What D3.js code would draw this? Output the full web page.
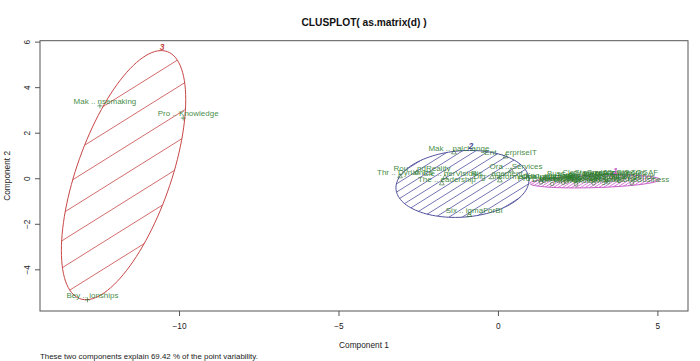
<!DOCTYPE html>
<html>
<head>
<meta charset="utf-8">
<script src="https://cdn.jsdelivr.net/npm/d3@7"></script>
<style>
  body { margin: 0; background: #fff; }
  text { font-family: "Liberation Sans", Arial, sans-serif; }
</style>
</head>
<body>
<script>
// observations: label, component 1, component 2, cluster
const labels = [
  "Mak .. nsemaking", "Pro .. Knowledge", "Bey .. ionships",
  "Mak .. nalchange", "Ent .. erpriseIT", "Thr .. Dynamics", "Rou .. ndReality",
  "Cle .. herVision", "The .. eadership", "Six .. igmaForBI", "Ris .. agement",
  "Ora .. Services", "Dig .. nsformation",
  "Pro .. nServices", "Kno .. geBuses", "Dat .. ernance", "Inf .. chitecture",
  "Bus .. sProcess", "Clo .. omputing", "Sta .. rdsCoBIT", "Gov .. ameworks",
  "Arc .. reTOGAF", "Ser .. ementITIL", "Sec .. rityRisk", "Und .. heBusiness",
  "Fin .. ancialMgt", "Mea .. ringValue", "Ope .. tionsMgt", "Ind .. ustryTrends",
  "Por .. tfolioMgt", "Bus .. nessCase", "Lic .. ensingMgt", "Sup .. lierMgt"
];
const comp1 = [
  -12.48, -9.87, -12.87,
  -1.38, 0.24, -3.07, -2.54, -1.66, -1.76, -0.9, -0.19, 0.41, 0.06,
  1.35, 1.55, 1.7, 1.9, 2.25, 2.7, 3.1, 3.55, 4.0, 3.0, 3.45, 4.2,
  2.45, 2.05, 1.45, 3.8, 2.85, 2.15, 3.4, 2.55
];
const comp2 = [
  3.18, 2.64, -5.34,
  1.13, 0.95, 0.08, 0.25, 0.04, -0.23, -1.62, 0.04, 0.34, -0.10,
  -0.18, -0.05, -0.25, -0.12, 0.02, 0.06, 0.05, 0.06, 0.08, -0.22, -0.18, -0.22,
  -0.27, -0.2, -0.12, -0.12, -0.05, -0.15, -0.04, -0.02
];
const clusterOf = [
  3, 3, 3,
  2, 2, 2, 2, 2, 2, 2, 2, 2, 2,
  1, 1, 1, 1, 1, 1, 1, 1, 1, 1, 1, 1,
  1, 1, 1, 1, 1, 1, 1, 1
];

// cluster ellipses: centre, half extents along each component, correlation
const clusterIds = [1, 2, 3];
const ellCx = [3.04, -1.113, -11.74];
const ellCy = [-0.14, -0.25, 0.136];
const ellHx = [2.04, 2.085, 1.95];
const ellHy = [0.285, 1.47, 5.47];
const ellRho = [0.3, 0.113, 0.606];

const xTicks = [-10, -5, 0, 5];
const yTicks = [-4, -2, 0, 2, 4, 6];

const w = 700, h = 361;
const mLeft = 40, mRight = 688, mTop = 40.7, mBottom = 311;

const clusCol = { 1: "#c85ac8", 2: "#50509e", 3: "#c84646" };
const hatchGap = { 1: 2.4, 2: 7, 3: 23 };
const txtCol = "#2e7d2e";
const ptCol = "#2a6a2a";

const x = d3.scaleLinear().domain([-14.36, 5.96]).range([mLeft, mRight]);
const y = d3.scaleLinear().domain([-5.83, 6.04]).range([mBottom, mTop]);

const svg = d3.select("body").append("svg")
  .attr("width", w).attr("height", h);

const defs = svg.append("defs");

// ellipses with hatching
const line = d3.line().x(d => x(d[0])).y(d => y(d[1]));
clusterIds.forEach((c, i) => {
  const phi = Math.acos(ellRho[i]);
  const pts = d3.range(0, 361, 3).map(a => {
    const t = a * Math.PI / 180;
    return [ellCx[i] + ellHx[i] * Math.cos(t), ellCy[i] + ellHy[i] * Math.cos(t - phi)];
  });
  defs.append("clipPath").attr("id", "clip" + c)
    .append("path").attr("d", line(pts) + "Z");

  const cxp = x(ellCx[i]), cyp = y(ellCy[i]);
  const R = Math.hypot(x(ellCx[i] + ellHx[i]) - cxp, y(ellCy[i] + ellHy[i]) - cyp) + 4;
  const th = 32 * Math.PI / 180;
  const dx = Math.cos(th), dy = -Math.sin(th);
  const nx = Math.sin(th), ny = Math.cos(th);
  const gap = hatchGap[c];
  const offs = d3.range(-Math.ceil(R / gap) * gap, R, gap);
  svg.append("g").attr("clip-path", "url(#clip" + c + ")")
    .selectAll("line").data(offs).enter().append("line")
    .attr("x1", o => cxp + o * nx - R * dx).attr("y1", o => cyp + o * ny - R * dy)
    .attr("x2", o => cxp + o * nx + R * dx).attr("y2", o => cyp + o * ny + R * dy)
    .attr("stroke", clusCol[c]).attr("stroke-width", 0.8);

  svg.append("path").attr("d", line(pts) + "Z")
    .attr("fill", "none").attr("stroke", clusCol[c]).attr("stroke-width", 1);
});

// point symbols: circle, triangle, plus
const idx = d3.range(labels.length);
const symType = { 1: d3.symbolCircle, 2: d3.symbolTriangle };
svg.append("g").selectAll("path").data(idx).enter().append("path")
  .attr("transform", i => "translate(" + x(comp1[i]) + "," + y(comp2[i]) + ")")
  .attr("d", i => {
    if (clusterOf[i] === 3) return "M-2.5,0H2.5M0,-2.5V2.5";
    return d3.symbol().type(symType[clusterOf[i]]).size(10)();
  })
  .attr("fill", "none").attr("stroke", ptCol).attr("stroke-width", 0.6);

// point labels
svg.append("g").selectAll("text").data(idx).enter().append("text")
  .attr("x", i => x(comp1[i]) + 5)
  .attr("y", i => y(comp2[i]) - 4.5)
  .attr("dy", "0.35em")
  .attr("text-anchor", "middle")
  .attr("font-size", 8)
  .attr("fill", txtCol)
  .attr("fill-opacity", 0.9)
  .text(i => labels[i]);

// cluster numbers at the top of each ellipse
clusterIds.forEach((c, i) => {
  svg.append("text")
    .attr("x", x(ellCx[i] + ellHx[i] * ellRho[i]) + 1)
    .attr("y", y(ellCy[i] + ellHy[i]) - 4)
    .attr("dy", "0.35em")
    .attr("text-anchor", "middle")
    .attr("font-size", 8.5).attr("font-weight", "bold").attr("font-style", "italic")
    .attr("fill", clusCol[c])
    .text(c);
});

// frame
svg.append("rect")
  .attr("x", mLeft).attr("y", mTop)
  .attr("width", mRight - mLeft).attr("height", mBottom - mTop)
  .attr("fill", "none").attr("stroke", "#555").attr("stroke-width", 1);

// axes
const xAxis = svg.append("g")
  .attr("transform", "translate(0," + mBottom + ")")
  .call(d3.axisBottom(x).tickValues(xTicks).tickSize(5).tickSizeOuter(0).tickPadding(7));
xAxis.select(".domain").remove();
xAxis.selectAll("text").attr("font-size", 8.3).attr("fill", "#222").attr("font-family", null);
xAxis.selectAll("line").attr("stroke", "#555");

const yAxis = svg.append("g")
  .attr("transform", "translate(" + mLeft + ",0)")
  .call(d3.axisLeft(y).tickValues(yTicks).tickSize(5).tickSizeOuter(0));
yAxis.select(".domain").remove();
yAxis.selectAll("line").attr("stroke", "#555");
yAxis.selectAll("text")
  .attr("x", 0).attr("y", -10).attr("dy", 0)
  .attr("transform", "rotate(-90)")
  .attr("text-anchor", "middle")
  .attr("font-size", 8.3).attr("fill", "#222").attr("font-family", null);

// titles
svg.append("text")
  .attr("x", (mLeft + mRight) / 2).attr("y", 26)
  .attr("text-anchor", "middle")
  .attr("font-size", 10.2).attr("font-weight", "bold").attr("fill", "#111")
  .text("CLUSPLOT( as.matrix(d) )");

svg.append("text")
  .attr("x", (mLeft + mRight) / 2).attr("y", 348)
  .attr("text-anchor", "middle")
  .attr("font-size", 8.3).attr("fill", "#222")
  .text("Component 1");

svg.append("text")
  .attr("transform", "translate(10," + ((mTop + mBottom) / 2) + ") rotate(-90)")
  .attr("text-anchor", "middle")
  .attr("font-size", 8.3).attr("fill", "#222")
  .text("Component 2");

svg.append("text")
  .attr("x", mLeft).attr("y", 358.5)
  .attr("font-size", 7.9).attr("fill", "#222")
  .text("These two components explain 69.42 % of the point variability.");
</script>
</body>
</html>
